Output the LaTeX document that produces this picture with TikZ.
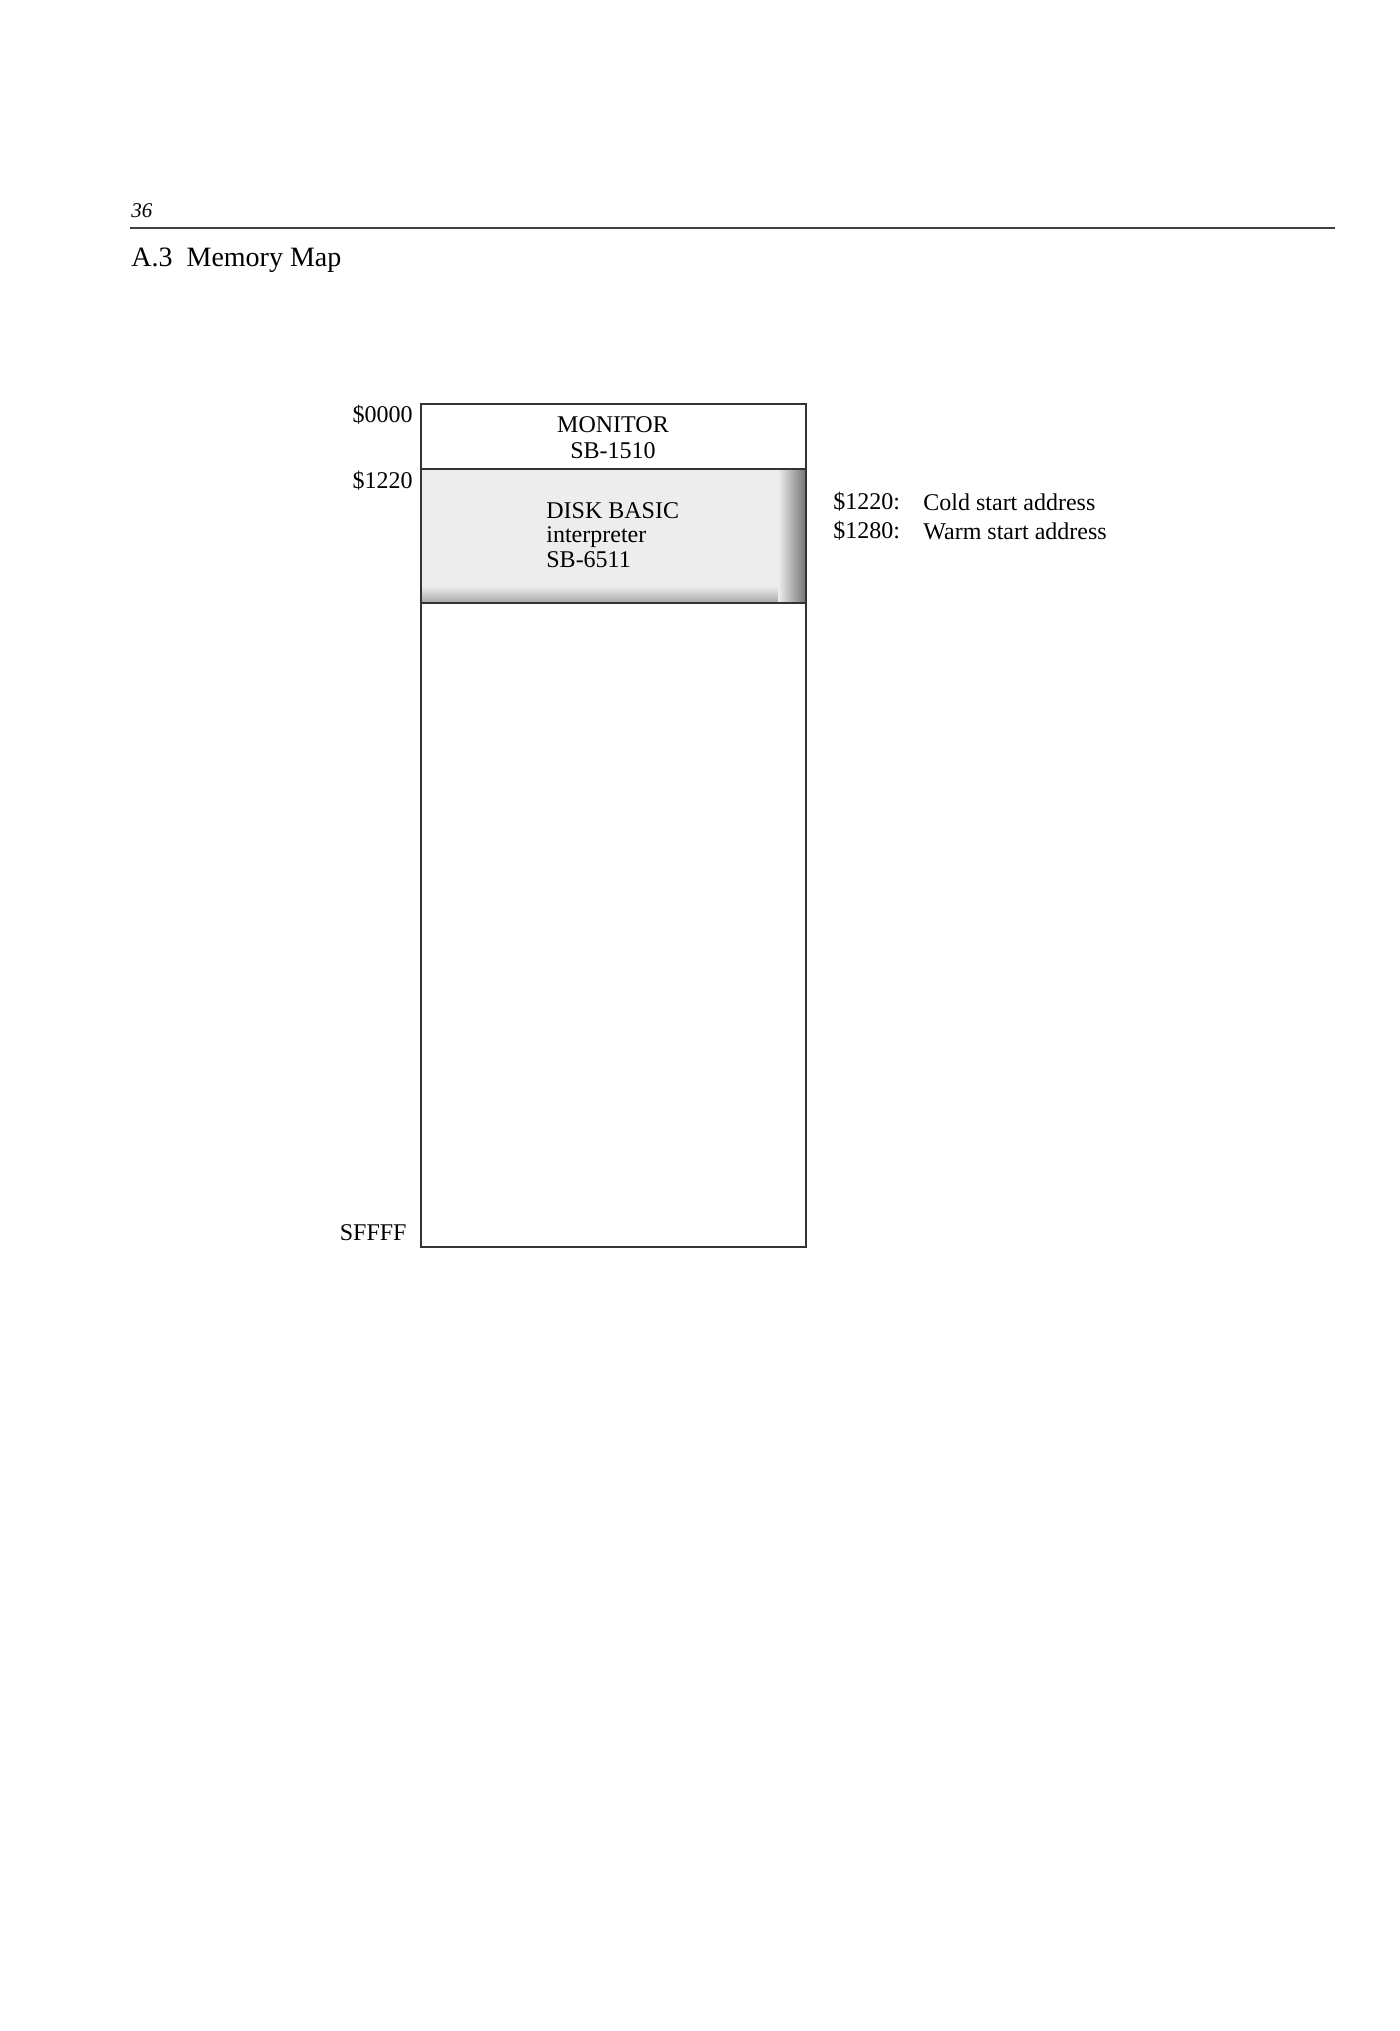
\documentclass[tikz,border=0pt]{standalone}
\usepackage{fontspec}
\setmainfont{Liberation Serif}
\usetikzlibrary{positioning}

\begin{document}
\begin{tikzpicture}[x=0.5pt, y=-0.5pt,
    addr/.style={anchor=east, inner sep=0pt, font=\fontsize{12}{14}\selectfont},
    note/.style={anchor=west, inner sep=0pt, font=\fontsize{12}{14}\selectfont},
    region/.style={draw=black!80, line width=0.8pt}]
    \useasboundingbox (0,0) rectangle (1400,2031);

    % page header
    \node[anchor=west, inner sep=0pt, font=\itshape\fontsize{10.5}{12}\selectfont] (page) at (131,211) {36};
    \coordinate (ruleL) at (130,228);
    \coordinate (ruleR) at (1335,228);
    \draw[black!75, line width=0.8pt] (ruleL) -- (ruleR);
    \node[anchor=west, inner sep=0pt, font=\fontsize{14}{16}\selectfont] (title) at (131,260) {A.3\ \ Memory Map};

    % memory regions
    \fill[black!7] (421,469) rectangle (806,603);
    \shade[top color=black!7, bottom color=black!35] (421,586) rectangle (806,603);
    \shade[left color=black!7, right color=black!55] (778,469) rectangle (806,603);
    \draw[region] (421,404) rectangle (806,1247);
    \draw[region] (421,469) -- (806,469);
    \draw[region] (421,603) -- (806,603);

    \node[align=center, inner sep=0pt, font=\fontsize{12}{13}\selectfont] (monitor) at (613,438) {MONITOR\\SB-1510};
    \node[anchor=west, inner sep=0pt, font=\fontsize{12}{15}\selectfont] (basic) at (546,511) {DISK BASIC};
    \node[anchor=west, inner sep=0pt, font=\fontsize{12}{15}\selectfont] (interp) at (546,537) {interpreter};
    \node[anchor=west, inner sep=0pt, font=\fontsize{12}{15}\selectfont] (sbnum) at (546,560) {SB-6511};

    % address labels
    \node[addr] (a0000) at (413,415) {\$0000};
    \node[addr] (a1220) at (413,481) {\$1220};
    \node[addr] (affff) at (407,1233) {SFFFF};

    % entry points
    \node[note] (cold) at (833,502) {\$1220:};
    \node[note] (warm) at (833,531) {\$1280:};
    \node[note] (coldtxt) at (923,502) {Cold start address};
    \node[note] (warmtxt) at (923,531) {Warm start address};
\end{tikzpicture}
\end{document}
